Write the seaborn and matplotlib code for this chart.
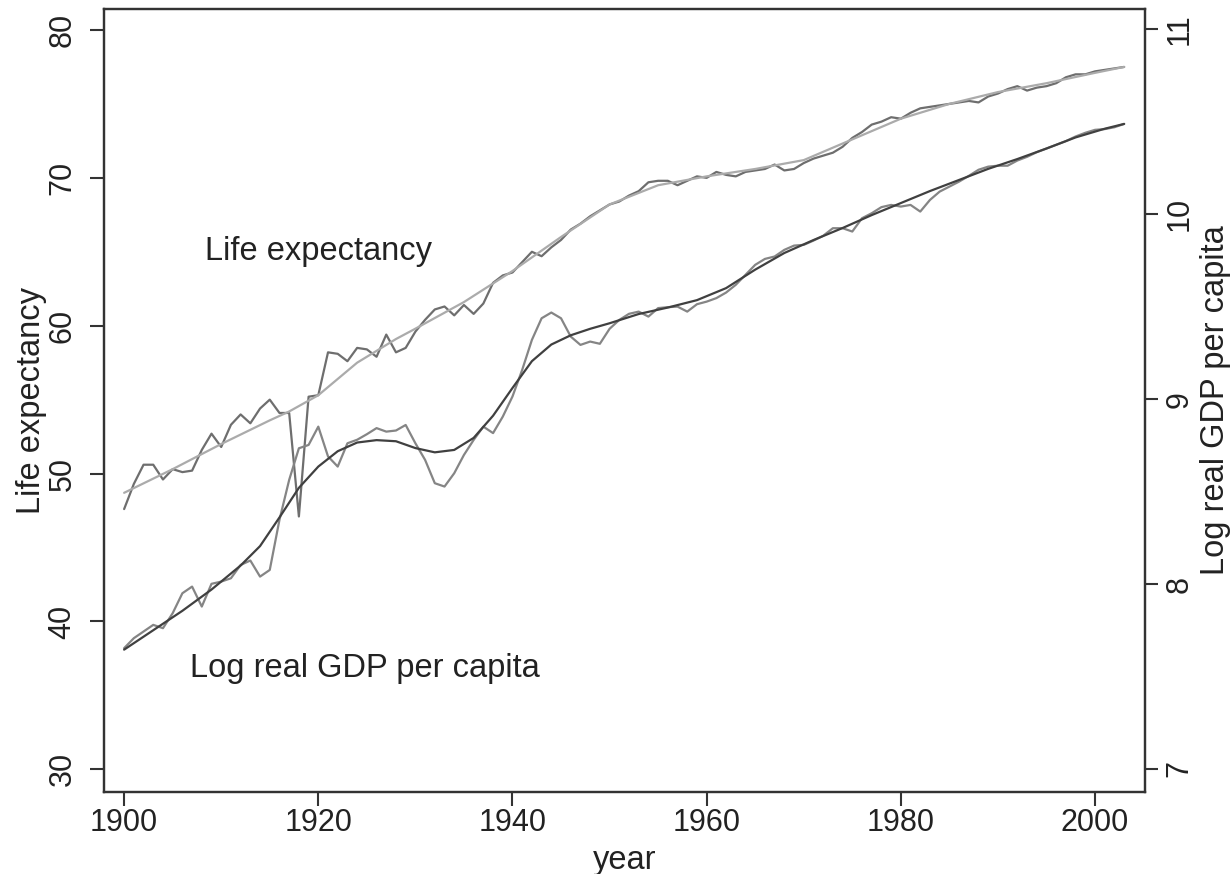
import numpy as np
import pandas as pd
import matplotlib
matplotlib.use("Agg")
import matplotlib.pyplot as plt
import seaborn as sns

# yearly raw series
years = list(range(1900, 2004))

life_exp = [47.6, 49.3, 50.6, 50.6, 49.6, 50.3, 50.1, 50.2, 51.6, 52.7,
            51.8, 53.3, 54.0, 53.4, 54.4, 55.0, 54.1, 54.1, 47.1, 55.2,
            55.3, 58.2, 58.1, 57.6, 58.5, 58.4, 57.9, 59.4, 58.2, 58.5,
            59.6, 60.4, 61.1, 61.3, 60.7, 61.4, 60.8, 61.5, 62.9, 63.4,
            63.6, 64.3, 65.0, 64.7, 65.3, 65.8, 66.5, 66.9, 67.4, 67.8,
            68.2, 68.4, 68.8, 69.1, 69.7, 69.8, 69.8, 69.5, 69.8, 70.1,
            70.0, 70.4, 70.2, 70.1, 70.4, 70.5, 70.6, 70.9, 70.5, 70.6,
            71.0, 71.3, 71.5, 71.7, 72.1, 72.7, 73.1, 73.6, 73.8, 74.1,
            74.0, 74.4, 74.7, 74.8, 74.9, 75.0, 75.1, 75.2, 75.1, 75.5,
            75.7, 76.0, 76.2, 75.9, 76.1, 76.2, 76.4, 76.8, 77.0, 77.0,
            77.2, 77.3, 77.4, 77.5]

log_gdp = [7.653, 7.707, 7.743, 7.779, 7.761, 7.842, 7.950, 7.986, 7.878, 8.001,
           8.013, 8.031, 8.103, 8.127, 8.040, 8.076, 8.347, 8.563, 8.734, 8.752,
           8.851, 8.690, 8.635, 8.761, 8.780, 8.810, 8.843, 8.824, 8.830, 8.860,
           8.761, 8.671, 8.545, 8.527, 8.599, 8.698, 8.779, 8.851, 8.816, 8.905,
           9.014, 9.158, 9.320, 9.437, 9.468, 9.437, 9.338, 9.293, 9.311, 9.299,
           9.380, 9.428, 9.461, 9.473, 9.446, 9.492, 9.497, 9.500, 9.473, 9.513,
           9.527, 9.546, 9.576, 9.618, 9.672, 9.726, 9.758, 9.771, 9.807, 9.830,
           9.834, 9.857, 9.883, 9.924, 9.924, 9.906, 9.978, 10.005, 10.038, 10.050,
           10.041, 10.050, 10.014, 10.077, 10.122, 10.149, 10.176, 10.207, 10.240, 10.257,
           10.262, 10.262, 10.290, 10.310, 10.335, 10.355, 10.375, 10.395, 10.420, 10.440,
           10.456, 10.460, 10.470, 10.488]

# smoothed trend lines (read at selected years)
le_smooth_years = [1900, 1905, 1910, 1915, 1917, 1920, 1922, 1924, 1926, 1928,
                   1930, 1935, 1940, 1945, 1950, 1955, 1960, 1965, 1970, 1975,
                   1980, 1985, 1990, 1995, 2000, 2003]
le_smooth = [48.7, 50.3, 52.0, 53.6, 54.2, 55.3, 56.4, 57.5, 58.3, 59.1,
             59.8, 61.6, 63.7, 66.0, 68.2, 69.5, 70.1, 70.6, 71.2, 72.6,
             74.0, 75.0, 75.8, 76.4, 77.1, 77.5]

gdp_smooth_years = [1900, 1903, 1906, 1909, 1912, 1914, 1916, 1918, 1920, 1922,
                    1924, 1926, 1928, 1930, 1932, 1934, 1936, 1938, 1940, 1942,
                    1944, 1946, 1948, 1950, 1953, 1956, 1959, 1962, 1965, 1968,
                    1971, 1974, 1977, 1980, 1983, 1986, 1989, 1992, 1995, 1998,
                    2001, 2003]
gdp_smooth = [7.645, 7.750, 7.855, 7.970, 8.100, 8.205, 8.360, 8.520, 8.635, 8.718,
              8.765, 8.778, 8.772, 8.735, 8.712, 8.725, 8.790, 8.910, 9.060, 9.205,
              9.295, 9.345, 9.380, 9.410, 9.460, 9.495, 9.535, 9.600, 9.700, 9.790,
              9.860, 9.925, 9.995, 10.060, 10.125, 10.185, 10.245, 10.298, 10.355, 10.415,
              10.462, 10.488]

sns.set_theme(style="white")
plt.rcParams['font.family'] = ['Liberation Sans', 'DejaVu Sans']

fig = plt.figure(figsize=(12.32, 8.74), dpi=100)
ax = fig.add_axes([0.0842, 0.0942, 0.8452, 0.8952])
ax2 = ax.twinx()

sns.lineplot(x=years, y=life_exp, ax=ax, color="#6e6e6e", linewidth=1.6)
sns.lineplot(x=le_smooth_years, y=le_smooth, ax=ax, color="#ababab", linewidth=1.6)
sns.lineplot(x=years, y=log_gdp, ax=ax2, color="#858585", linewidth=1.6)
sns.lineplot(x=gdp_smooth_years, y=gdp_smooth, ax=ax2, color="#404040", linewidth=1.6)

ax.set_xlim(1897.9, 2005.15)
ax.set_ylim(28.49, 81.4)
ax2.set_ylim(6.877, 11.108)

ax.set_xticks([1900, 1920, 1940, 1960, 1980, 2000])
ax.set_yticks([30, 40, 50, 60, 70, 80])
ax2.set_yticks([7, 8, 9, 10, 11])

fs = 22
lfs = 23.5
ax.tick_params(axis='x', bottom=True, direction='out', length=10, width=1.5,
               color='#333333', labelsize=fs, pad=2, labelcolor='#222222')
ax.tick_params(axis='y', left=True, direction='out', length=10, width=1.5,
               color='#333333', labelsize=fs, pad=9, labelcolor='#222222')
ax2.tick_params(axis='y', right=True, direction='out', length=9, width=1.5,
                color='#333333', labelsize=fs, pad=5, labelcolor='#222222')
for lbl in ax.get_yticklabels():
    lbl.set_rotation(90)
    lbl.set_va('center')
for lbl in ax2.get_yticklabels():
    lbl.set_rotation(90)
    lbl.set_va('center')

ax.set_xlabel('year', fontsize=lfs, color='#222222', labelpad=5)
ax.set_ylabel('Life expectancy', fontsize=lfs, color='#222222', labelpad=0)
ax2.set_ylabel('Log real GDP per capita', fontsize=lfs, color='#222222',
               rotation=90, labelpad=4)

for a in (ax, ax2):
    for sp in a.spines.values():
        sp.set_color('#333333')
        sp.set_linewidth(1.6)

ax.text(1908.3, 65.0, 'Life expectancy', fontsize=lfs, color='#222222',
        ha='left', va='center')
ax.text(1906.8, 36.85, 'Log real GDP per capita', fontsize=lfs, color='#222222',
        ha='left', va='center')

fig.savefig('out.png', dpi=100)
plt.close(fig)
